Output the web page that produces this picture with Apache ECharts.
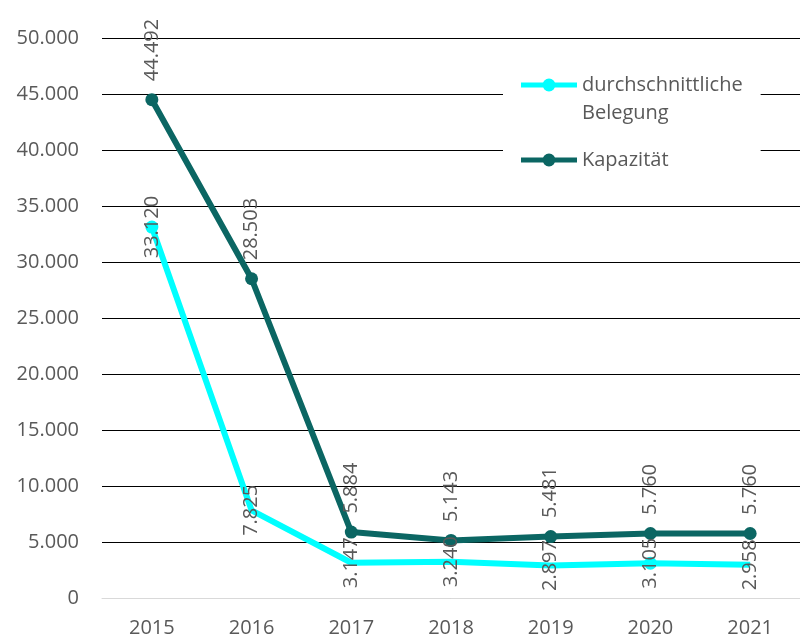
<!DOCTYPE html>
<html>
<head>
<meta charset="utf-8">
<script src="https://cdn.jsdelivr.net/npm/echarts@6/dist/echarts.min.js"></script>
<style>
  html, body { margin: 0; padding: 0; background: #fff; }
  #chart { width: 800px; height: 639px; }
</style>
</head>
<body>
<div id="chart"></div>
<script>
const years = ['2015', '2016', '2017', '2018', '2019', '2020', '2021'];
const belegung = [33120, 7825, 3147, 3240, 2897, 3105, 2958];
const kapazitaet = [44492, 28503, 5884, 5143, 5481, 5760, 5760];
// Belegung only shows markers on some points
const belegungMarked = [true, false, false, false, false, true, false];

const fmt = (v) => String(v).replace(/\B(?=(\d{3})+(?!\d))/g, '.');
const grey = '#595959';
const font = 'Open Sans, Liberation Sans, sans-serif';

// legend icons: line + dot, drawn in a 56x42 box so the first text line lines up
const dotTop = 'path://M0,4.5 h56 v5 h-56 Z M34.5,7 A6.5,6.5 0 1 1 21.5,7 A6.5,6.5 0 1 1 34.5,7 Z M0,0 h0.1 v0.1 h-0.1 Z M0,41.9 h0.1 v0.1 h-0.1 Z';
const dotMid = 'path://M0,18.5 h56 v5 h-56 Z M34.5,21 A6.5,6.5 0 1 1 21.5,21 A6.5,6.5 0 1 1 34.5,21 Z M0,0 h0.1 v0.1 h-0.1 Z M0,41.9 h0.1 v0.1 h-0.1 Z';

const chart = echarts.init(document.getElementById('chart'));

chart.setOption({
  animation: false,
  grid: { left: 102, right: -5, top: 38, bottom: 41 },
  legend: {
    orient: 'vertical',
    left: 503,
    top: 67,
    backgroundColor: '#fff',
    padding: [4, 18, 4, 18],
    itemWidth: 56,
    itemHeight: 42,
    itemGap: 12,
    textStyle: { color: grey, fontSize: 20, fontFamily: font, lineHeight: 28 },
    data: [
      { name: 'durchschnittliche\nBelegung', icon: dotTop },
      { name: 'Kapazität', icon: dotMid }
    ]
  },
  xAxis: {
    type: 'category',
    data: years,
    axisLine: { lineStyle: { color: '#d9d9d9', width: 1 } },
    axisTick: { show: false },
    axisLabel: { color: grey, fontSize: 20, fontFamily: font, margin: 20 }
  },
  yAxis: {
    type: 'value',
    min: 0,
    max: 50000,
    interval: 5000,
    axisLine: { show: false },
    axisTick: { show: false },
    splitLine: { lineStyle: { color: '#000', width: 1 } },
    axisLabel: { color: grey, fontSize: 20, fontFamily: font, margin: 23, formatter: fmt }
  },
  series: [
    {
      name: 'durchschnittliche\nBelegung',
      type: 'line',
      data: belegung.map((v, i) => ({
        value: v,
        symbolSize: belegungMarked[i] ? 13 : 0
      })),
      symbol: 'circle',
      showAllSymbol: true,
      lineStyle: { color: '#00ffff', width: 6 },
      itemStyle: { color: '#00ffff' },
      label: {
        show: true,
        position: 'inside',
        rotate: 90,
        align: 'center',
        verticalAlign: 'middle',
        color: grey,
        fontSize: 20,
        fontFamily: font,
        formatter: (p) => fmt(p.value)
      },
      z: 3
    },
    {
      name: 'Kapazität',
      type: 'line',
      data: kapazitaet,
      symbol: 'circle',
      symbolSize: 13,
      showAllSymbol: true,
      lineStyle: { color: '#0b6663', width: 6 },
      itemStyle: { color: '#0b6663' },
      label: {
        show: true,
        position: 'top',
        distance: 12,
        rotate: 90,
        align: 'left',
        verticalAlign: 'middle',
        color: grey,
        fontSize: 20,
        fontFamily: font,
        formatter: (p) => fmt(p.value)
      },
      z: 2
    }
  ]
});
</script>
</body>
</html>
